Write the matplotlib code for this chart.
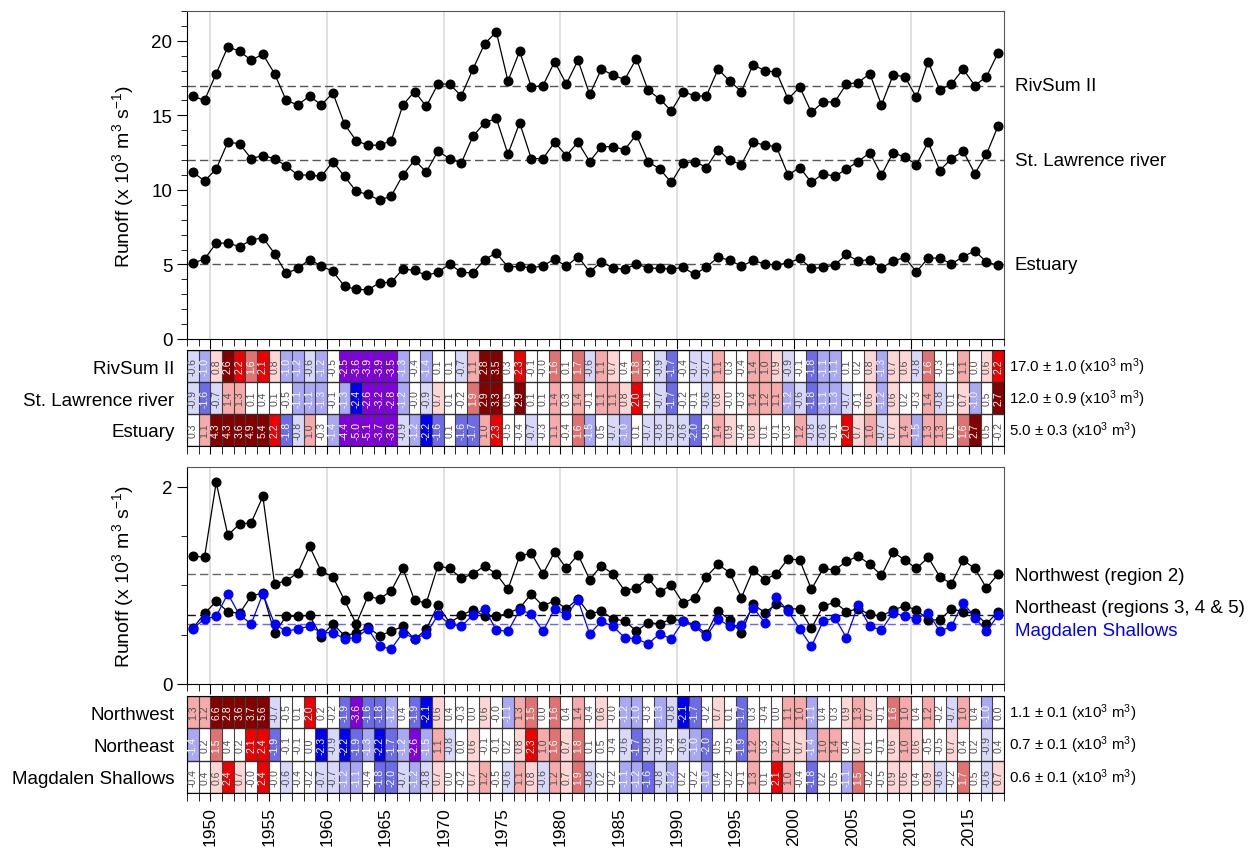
import matplotlib
matplotlib.use('Agg')
import matplotlib.pyplot as plt
import numpy as np
from matplotlib.colors import ListedColormap, BoundaryNorm
from matplotlib.ticker import MultipleLocator

plt.rcParams['font.family'] = ['Liberation Sans', 'DejaVu Sans']
plt.rcParams['mathtext.fontset'] = 'custom'
plt.rcParams['mathtext.rm'] = 'Liberation Sans'
plt.rcParams['mathtext.it'] = 'Liberation Sans:italic'

# years 1948-2017, one cell / point per year
first_year, last_year = 1948, 2017
years = np.arange(first_year, last_year + 1)

# --- runoff (x10^3 m^3 s^-1), top panel ---
rivsum = [16.3, 16.0, 17.8, 19.6, 19.3, 18.7, 19.1, 17.8, 16.0, 15.7, 16.3, 15.7, 16.5, 14.4, 13.3, 13.0, 13.0, 13.3,
          15.7, 16.6, 15.6, 17.1, 17.1, 16.3, 18.1, 19.8, 20.6, 17.3, 19.3, 16.9, 17.0, 18.6, 17.1, 18.7, 16.4, 18.1,
          17.7, 17.4, 18.8, 16.7, 16.1, 15.3, 16.6, 16.3, 16.3, 18.1, 17.3, 16.6, 18.4, 18.0, 17.9, 16.1, 16.9, 15.2,
          15.9, 15.9, 17.1, 17.2, 17.8, 15.7, 17.7, 17.6, 16.2, 18.6, 16.7, 17.1, 18.1, 17.0, 17.6, 19.2]
stlaw = [11.2, 10.6, 11.4, 13.2, 13.1, 12.1, 12.3, 12.1, 11.6, 11.0, 11.0, 10.9, 11.9, 10.9, 9.9, 9.7, 9.3, 9.6,
         11.0, 12.0, 11.2, 12.6, 12.1, 11.8, 13.6, 14.5, 14.8, 12.4, 14.5, 12.1, 12.1, 13.2, 12.3, 13.2, 11.9, 12.9,
         12.9, 12.7, 13.7, 11.9, 11.4, 10.5, 11.8, 11.9, 11.5, 12.7, 12.0, 11.7, 13.2, 13.0, 12.9, 11.0, 11.5, 10.5,
         11.1, 10.9, 11.4, 11.9, 12.5, 11.0, 12.5, 12.2, 11.7, 13.2, 11.3, 12.1, 12.6, 11.1, 12.4, 14.3]
estuary = [5.10, 5.35, 6.43, 6.43, 6.20, 6.63, 6.80, 5.73, 4.40, 4.73, 5.33, 4.90, 4.53, 3.53, 3.33, 3.30, 3.77, 3.80,
           4.70, 4.60, 4.27, 4.47, 5.03, 4.47, 4.43, 5.33, 5.77, 4.83, 4.87, 4.77, 4.90, 5.37, 4.87, 5.53, 4.50, 5.17,
           4.77, 4.67, 5.03, 4.77, 4.73, 4.70, 4.80, 4.33, 4.83, 5.47, 5.30, 4.87, 5.27, 5.03, 4.97, 5.10, 5.40, 4.73,
           4.80, 4.97, 5.67, 5.23, 5.33, 4.77, 5.23, 5.47, 4.50, 5.43, 5.43, 5.03, 5.53, 5.90, 5.17, 4.93]

# --- runoff, bottom panel ---
northwest = [1.298, 1.284, 2.043, 1.509, 1.621, 1.635, 1.902, 1.017, 1.045, 1.129, 1.396, 1.143, 1.087, 0.848, 0.609, 0.890, 0.862, 0.946,
             1.171, 0.848, 0.820, 1.199, 1.171, 1.073, 1.115, 1.199, 1.115, 0.960, 1.298, 1.326, 1.115, 1.340, 1.171, 1.312, 1.059, 1.199,
             1.115, 0.946, 0.974, 1.073, 0.932, 1.003, 0.820, 0.876, 1.087, 1.213, 1.129, 0.876, 1.157, 1.059, 1.115, 1.270, 1.256, 0.960,
             1.171, 1.157, 1.242, 1.298, 1.213, 1.101, 1.340, 1.256, 1.171, 1.284, 1.087, 1.017, 1.256, 1.171, 0.974, 1.115]
northeast = [0.564, 0.715, 0.837, 0.734, 0.715, 0.893, 0.922, 0.517, 0.687, 0.687, 0.696, 0.480, 0.611, 0.489, 0.517, 0.574, 0.489, 0.536,
             0.583, 0.452, 0.555, 0.799, 0.621, 0.696, 0.752, 0.687, 0.687, 0.715, 0.771, 0.912, 0.790, 0.846, 0.762, 0.865, 0.705, 0.743,
             0.658, 0.640, 0.536, 0.621, 0.611, 0.658, 0.640, 0.602, 0.508, 0.743, 0.649, 0.517, 0.809, 0.724, 0.809, 0.762, 0.762, 0.564,
             0.790, 0.828, 0.734, 0.762, 0.705, 0.687, 0.752, 0.790, 0.752, 0.649, 0.649, 0.762, 0.734, 0.715, 0.611, 0.734]
magdalen = [0.559, 0.661, 0.686, 0.915, 0.699, 0.610, 0.915, 0.610, 0.534, 0.559, 0.585, 0.521, 0.521, 0.458, 0.470, 0.559, 0.381, 0.356,
            0.521, 0.458, 0.508, 0.699, 0.610, 0.585, 0.699, 0.762, 0.547, 0.534, 0.750, 0.712, 0.534, 0.762, 0.699, 0.851, 0.508, 0.635,
            0.585, 0.470, 0.458, 0.407, 0.508, 0.458, 0.635, 0.585, 0.483, 0.661, 0.585, 0.597, 0.775, 0.623, 0.877, 0.737, 0.559, 0.381,
            0.635, 0.674, 0.470, 0.801, 0.585, 0.547, 0.724, 0.686, 0.661, 0.724, 0.534, 0.585, 0.826, 0.674, 0.534, 0.699]

# climatological means (dashed lines)
means_top = [17.0, 12.0, 5.0]
means_bot = [1.115, 0.696, 0.61]

# --- standardized anomalies shown in the scorecards ---
anom_rivsum = [-0.6, -1.0, 0.8, 2.6, 2.2, 1.6, 2.1, 0.8, -1.0, -1.2, -0.6, -1.2, -0.5, -2.5, -3.6, -3.9, -3.9, -3.5,
               -1.3, -0.4, -1.4, 0.1, 0.1, -0.7, 1.1, 2.8, 3.5, 0.3, 2.3, -0.1, -0.0, 1.6, 0.1, 1.7, -0.6, 1.1,
               0.7, 0.4, 1.8, -0.3, -0.9, -1.7, -0.4, -0.7, -0.7, 1.1, 0.3, -0.4, 1.4, 1.0, 0.9, -0.9, -0.1, -1.8,
               -1.1, -1.1, 0.1, 0.2, 0.8, -1.3, 0.7, 0.6, -0.8, 1.6, -0.3, 0.1, 1.1, 0.0, 0.6, 2.2]
anom_stlaw = [-0.9, -1.6, -0.7, 1.4, 1.3, 0.1, 0.4, 0.1, -0.5, -1.1, -1.1, -1.3, -0.1, -1.3, -2.4, -2.6, -3.2, -2.8,
              -1.2, -0.0, -0.9, 0.7, 0.1, -0.2, 1.9, 2.9, 3.3, 0.5, 2.9, 0.1, 0.1, 1.4, 0.3, 1.4, -0.1, 1.1,
              1.1, 0.8, 2.0, -0.1, -0.7, -1.7, -0.2, -0.1, -0.6, 0.8, -0.0, -0.3, 1.4, 1.2, 1.1, -1.2, -0.6, -1.8,
              -1.1, -1.3, -0.7, -0.1, 0.6, -1.2, 0.6, 0.2, -0.3, 1.4, -0.8, 0.1, 0.7, -1.0, 0.5, 2.7]
anom_estuary = [0.3, 1.1, 4.3, 4.3, 3.6, 4.9, 5.4, 2.2, -1.8, -0.8, 1.0, -0.3, -1.4, -4.4, -5.0, -5.1, -3.7, -3.6,
                -0.9, -1.2, -2.2, -1.6, 0.1, -1.6, -1.7, 1.0, 2.3, -0.5, -0.4, -0.7, -0.3, 1.1, -0.4, 1.6, -1.5, 0.5,
                -0.7, -1.0, 0.1, -0.7, -0.8, -0.9, -0.6, -2.0, -0.5, 1.4, 0.9, -0.4, 0.8, 0.1, -0.1, 0.3, 1.2, -0.8,
                -0.6, -0.1, 2.0, 0.7, 1.0, -0.7, 0.7, 1.4, -1.5, 1.3, 1.3, 0.1, 1.6, 2.7, 0.5, -0.2]
anom_nw = [1.3, 1.2, 6.6, 2.8, 3.6, 3.7, 5.6, -0.7, -0.5, 0.1, 2.0, 0.2, -0.2, -1.9, -3.6, -1.6, -1.8, -1.2,
           0.4, -1.9, -2.1, 0.6, 0.4, -0.3, 0.0, 0.6, -0.0, -1.1, 1.3, 1.5, 0.0, 1.6, 0.4, 1.4, -0.4, 0.6,
           -0.0, -1.2, -1.0, -0.3, -1.3, -0.8, -2.1, -1.7, -0.2, 0.7, 0.1, -1.7, 0.3, -0.4, 0.0, 1.1, 1.0, -1.1,
           0.4, 0.3, 0.9, 1.3, 0.7, -0.1, 1.6, 1.0, 0.4, 1.2, -0.2, -0.7, 1.0, 0.4, -1.0, 0.0]
anom_ne = [-1.4, 0.2, 1.5, 0.4, 0.2, 2.1, 2.4, -1.9, -0.1, -0.1, 0.0, -2.3, -0.9, -2.2, -1.9, -1.3, -2.2, -1.7,
           -1.2, -2.6, -1.5, 1.1, -0.8, 0.0, 0.6, -0.1, -0.1, 0.2, 0.8, 2.3, 1.0, 1.6, 0.7, 1.8, 0.1, 0.5,
           -0.4, -0.6, -1.7, -0.8, -0.9, -0.4, -0.6, -1.0, -2.0, 0.5, -0.5, -1.9, 1.2, 0.3, 1.2, 0.7, 0.7, -1.4,
           1.0, 1.4, 0.4, 0.7, 0.1, -0.1, 0.6, 1.0, 0.6, -0.5, -0.5, 0.7, 0.4, 0.2, -0.9, 0.4]
anom_ms = [-0.4, 0.4, 0.6, 2.4, 0.7, -0.0, 2.4, -0.0, -0.6, -0.4, -0.2, -0.7, -0.7, -1.2, -1.1, -0.4, -1.8, -2.0,
           -0.7, -1.2, -0.8, 0.7, 0.0, -0.2, 0.7, 1.2, -0.5, -0.6, 1.1, 0.8, -0.6, 1.2, 0.7, 1.9, -0.8, 0.2,
           -0.2, -1.1, -1.2, -1.6, -0.8, -1.2, 0.2, -0.2, -1.0, 0.4, -0.2, -0.1, 1.3, 0.1, 2.1, 1.0, -0.4, -1.8,
           0.2, 0.5, -1.1, 1.5, -0.2, -0.5, 0.9, 0.6, 0.4, 0.9, -0.6, -0.2, 1.7, 0.5, -0.6, 0.7]

top_names = ['RivSum II', 'St. Lawrence river', 'Estuary']
bot_names = ['Northwest (region 2)', 'Northeast (regions 3, 4 & 5)', 'Magdalen Shallows']
card1_labels = ['RivSum II', 'St. Lawrence river', 'Estuary']
card2_labels = ['Northwest', 'Northeast', 'Magdalen Shallows']
card1_stats = ['17.0 \u00b1 1.0', '12.0 \u00b1 0.9', '5.0 \u00b1 0.3']
card2_stats = ['1.1 \u00b1 0.1', '0.7 \u00b1 0.1', '0.6 \u00b1 0.1']

# scorecard colours
bounds = [-99, -2.45, -2.05, -1.55, -0.95, -0.55, 0.55, 0.95, 1.45, 1.95, 2.45, 99]
colors = ['#8000e0', '#0000f0', '#6c6ce8', '#a8a8f4', '#d8d8fa', '#ffffff',
          '#ffd6d6', '#f7aaaa', '#e07272', '#ee0000', '#820000']
cmap = ListedColormap(colors)
norm = BoundaryNorm(bounds, cmap.N)

W, H = 1257, 853
fig = plt.figure(figsize=(W / 100, H / 100), dpi=100)
x0, xw = 187 / W, 817 / W
ax1 = fig.add_axes([x0, 1 - 340 / H, xw, 328 / H])
hm1 = fig.add_axes([x0, 1 - 447 / H, xw, 96 / H])
ax2 = fig.add_axes([x0, 1 - 685 / H, xw, 217 / H])
hm2 = fig.add_axes([x0, 1 - 794 / H, xw, 97 / H])

ylab = r'Runoff (x 10$^3$ m$^3$ s$^{-1}$)'


def style_line_axes(ax):
    ax.set_xlim(first_year, last_year + 1)
    for yr in range(1950, 2020, 10):
        ax.axvline(yr, color='#dadada', lw=1.2, zorder=0)
    ax.xaxis.set_major_locator(MultipleLocator(10))
    ax.xaxis.set_minor_locator(MultipleLocator(1))
    ax.tick_params(axis='x', which='both', direction='out', labelbottom=False)
    ax.tick_params(axis='x', which='major', length=7)
    ax.tick_params(axis='x', which='minor', length=5)
    ax.tick_params(axis='y', which='major', direction='out', length=7, labelsize=13.5)
    ax.tick_params(axis='y', which='minor', direction='out', length=4)
    for s in ['top', 'right']:
        ax.spines[s].set_color('#555555')
    ax.set_ylabel(ylab, fontsize=14)
    ax.yaxis.set_label_coords(-0.062, 0.5)


# top panel
for vals, m, name in zip([rivsum, stlaw, estuary], means_top, top_names):
    ax1.axhline(m, color='#555555', ls='--', lw=1, dashes=(6, 3), zorder=1)
    ax1.plot(years + 0.5, vals, '-o', color='black', lw=0.9, ms=6.2, zorder=3)
    ax1.text(1.013, m, name, transform=ax1.get_yaxis_transform(), va='center', fontsize=13.5)
ax1.set_ylim(0, 22)
ax1.yaxis.set_major_locator(MultipleLocator(5))
ax1.yaxis.set_minor_locator(MultipleLocator(1))
style_line_axes(ax1)

# bottom panel
line_cols = ['black', 'black', '#0000ff']
dash_cols = ['#666666', '#111111', '#6666ff']
text_y = [1.10, 0.78, 0.545]
for vals, m, col, dcol, name, ty in zip([northwest, northeast, magdalen], means_bot,
                                        line_cols, dash_cols, bot_names, text_y):
    ax2.axhline(m, color=dcol, ls='--', lw=1, dashes=(6, 3), zorder=1)
    ax2.plot(years + 0.5, vals, '-o', color=col, lw=0.9, ms=6.2, zorder=3)
    ax2.text(1.013, ty, name, transform=ax2.get_yaxis_transform(), va='center', fontsize=13.5,
             color='#0000ff' if col != 'black' else 'black')
ax2.set_ylim(0, 2.2)
ax2.yaxis.set_major_locator(MultipleLocator(2))
ax2.yaxis.set_minor_locator(MultipleLocator(0.5))
style_line_axes(ax2)


def draw_card(ax, rows, labels, stats, show_years):
    data = np.array(rows)
    ax.pcolormesh(np.arange(first_year, last_year + 2), np.arange(len(rows) + 1), data,
                  cmap=cmap, norm=norm)
    ax.vlines(np.arange(first_year, last_year + 2), 0, len(rows), color='#404040', lw=0.8)
    ax.hlines(np.arange(len(rows) + 1), first_year, last_year + 1, color='#303030', lw=1.0)
    ax.set_xlim(first_year, last_year + 1)
    ax.set_ylim(len(rows), 0)
    for i, row in enumerate(rows):
        for j, v in enumerate(row):
            dark = v <= -0.95 or v >= 1.45
            ax.text(years[j] + 0.5, i + 0.5, f'{v:.1f}', rotation=90, ha='center', va='center',
                    fontsize=7.6, color='white' if dark else '#505050')
        ax.text(1.006, i + 0.5, stats[i] + r' (x10$^3$ m$^3$)', transform=ax.get_yaxis_transform(),
                va='center', fontsize=10.8)
    ax.set_yticks(np.arange(len(rows)) + 0.5)
    ax.set_yticklabels(labels, fontsize=13.5)
    ax.tick_params(axis='y', length=0, pad=9)
    ax.xaxis.set_minor_locator(MultipleLocator(1))
    ax.set_xticks(np.arange(1950, 2020, 5))
    ax.tick_params(axis='x', which='both', direction='out', length=6)
    if show_years:
        ax.set_xticklabels([str(y) for y in range(1950, 2020, 5)], rotation=90, fontsize=12.5)
    else:
        ax.tick_params(axis='x', labelbottom=False)


draw_card(hm1, [anom_rivsum, anom_stlaw, anom_estuary], card1_labels, card1_stats, False)
draw_card(hm2, [anom_nw, anom_ne, anom_ms], card2_labels, card2_stats, True)

fig.savefig('out.png', dpi=100)
